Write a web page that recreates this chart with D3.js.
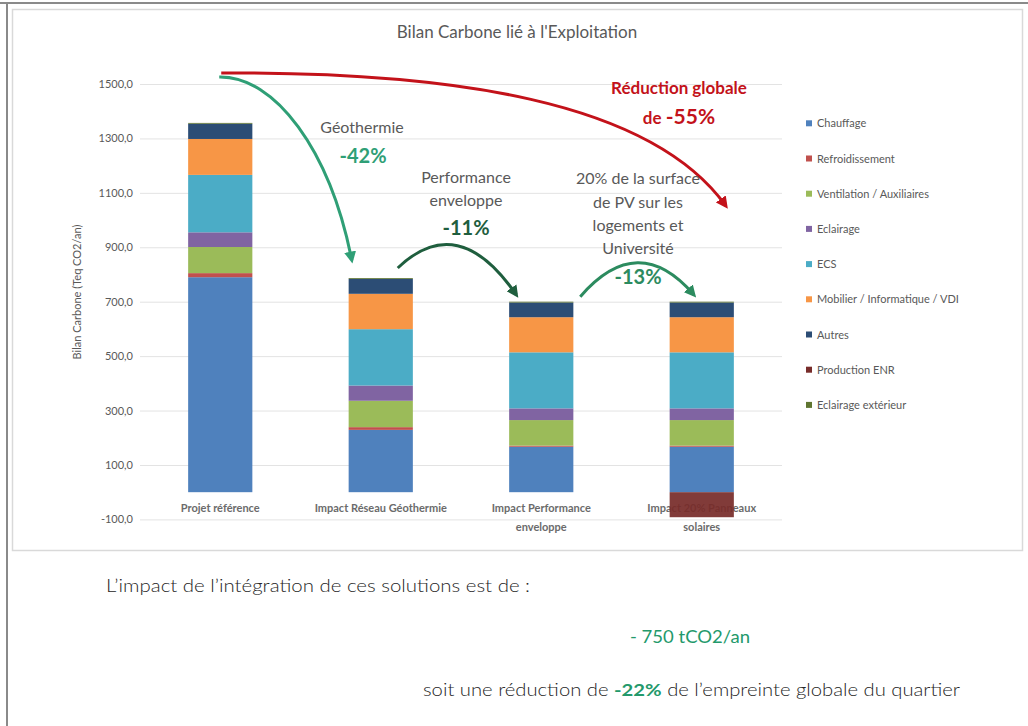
<!DOCTYPE html>
<html>
<head>
<meta charset="utf-8">
<script src="https://cdn.jsdelivr.net/npm/d3@7"></script>
<style>
  html, body { margin: 0; padding: 0; background: #fff; }
  svg { display: block; font-family: Lato, "Open Sans", sans-serif; }
</style>
</head>
<body>
<svg id="chart" width="1028" height="726"></svg>
<script>
// Scenarios (x categories)
const scenarios = ["Projet référence", "Impact Réseau Géothermie", "Impact Performance enveloppe", "Impact 20% Panneaux solaires"];
const scenarioLines = [["Projet référence"], ["Impact Réseau Géothermie"], ["Impact Performance", "enveloppe"], ["Impact 20% Panneaux", "solaires"]];

// Emission posts (stack order, bottom to top)
const posts = ["Chauffage", "Refroidissement", "Ventilation / Auxiliaires", "Eclairage", "ECS",
               "Mobilier / Informatique / VDI", "Autres", "Production ENR", "Eclairage extérieur"];
const postColors = ["#4f81bd", "#c0504d", "#9bbb59", "#8064a2", "#4bacc6", "#f79646", "#2c4d75", "#772c2a", "#5f7530"];

// Values per post, in Teq CO2/an, one entry per scenario
const chauffage       = [790, 229, 167, 167];
const refroidissement = [15, 10, 4, 4];
const ventilation     = [96, 97, 94, 94];
const eclairage       = [54, 56, 43, 43];
const ecs             = [211, 207, 206, 206];
const mobilier        = [132, 130, 129, 129];
const autres          = [56, 55, 54, 54];
const productionEnr   = [0, 0, 0, -92];
const eclairageExt    = [3, 3, 3, 3];

const yTicks = [-100, 100, 300, 500, 700, 900, 1100, 1300, 1500];

const seriesValues = [chauffage, refroidissement, ventilation, eclairage, ecs, mobilier, autres, productionEnr, eclairageExt];
const rows = scenarios.map((s, i) => {
  const r = { scenario: s };
  posts.forEach((p, k) => { r[p] = seriesValues[k][i]; });
  return r;
});

const svg = d3.select("#chart");

// Page frame and chart box
svg.append("rect").attr("x", 0).attr("y", 0).attr("width", 1028).attr("height", 726).attr("fill", "#fff");
svg.append("line").attr("x1", 0).attr("x2", 1028).attr("y1", 3).attr("y2", 3).attr("stroke", "#8a8a8a").attr("stroke-width", 2);
svg.append("line").attr("x1", 7).attr("x2", 7).attr("y1", 3).attr("y2", 726).attr("stroke", "#8a8a8a").attr("stroke-width", 2);
svg.append("rect").attr("x", 12.5).attr("y", 9.5).attr("width", 1010).attr("height", 541)
   .attr("fill", "#fff").attr("stroke", "#d9d9d9").attr("stroke-width", 1.5);

const x = d3.scaleBand().domain(scenarios).range([140, 782]).paddingInner(0.6).paddingOuter(0.3);
const y = d3.scaleLinear().domain([-100, 1500]).range([519.4, 84]);

// Title
svg.append("text").attr("x", 517).attr("y", 38).attr("text-anchor", "middle")
   .attr("font-size", 17).attr("fill", "#595959").text("Bilan Carbone lié à l'Exploitation");

// Gridlines + y axis labels
const yAxis = d3.axisLeft(y).tickValues(yTicks).tickSize(-(782 - 140)).tickPadding(7)
  .tickFormat(d => d3.format(".1f")(d).replace(".", ",").replace("−", "-"));
const gY = svg.append("g").attr("transform", "translate(140,0)").call(yAxis);
gY.select(".domain").remove();
gY.selectAll(".tick line").attr("stroke", "#e3e3e3").attr("stroke-width", 1);
gY.selectAll(".tick text").attr("fill", "#595959").attr("font-size", 11).attr("font-family", "Lato, sans-serif");

svg.append("text").attr("transform", "translate(81,292) rotate(-90)").attr("text-anchor", "middle")
   .attr("font-size", 11).attr("fill", "#595959").text("Bilan Carbone (Teq CO2/an)");

// Category labels (drawn beneath the bars)
const gX = svg.append("g");
scenarioLines.forEach((lines, i) => {
  const t = gX.append("text").attr("x", x(scenarios[i]) + x.bandwidth() / 2).attr("y", 512)
    .attr("text-anchor", "middle").attr("font-size", 11).attr("font-weight", 700).attr("fill", "#6b6b6b");
  lines.forEach((l, j) => t.append("tspan").attr("x", x(scenarios[i]) + x.bandwidth() / 2).attr("dy", j ? 19 : 0).text(l));
});

// Stacked bars
const stack = d3.stack().keys(posts).offset(d3.stackOffsetDiverging);
const layers = stack(rows);
const color = d3.scaleOrdinal().domain(posts).range(postColors);
svg.append("g").selectAll("g").data(layers).join("g")
  .attr("fill", d => color(d.key))
  .attr("fill-opacity", d => d.key === "Production ENR" ? 0.93 : 1)
  .selectAll("rect").data(d => d).join("rect")
  .attr("x", d => x(d.data.scenario))
  .attr("width", x.bandwidth())
  .attr("y", d => y(Math.max(d[0], d[1])))
  .attr("height", d => Math.abs(y(d[0]) - y(d[1])));

// Legend
const legend = svg.append("g");
posts.forEach((p, i) => {
  const ly = 123.3 + i * 35.2;
  legend.append("rect").attr("x", 806).attr("y", ly - 3).attr("width", 6).attr("height", 6).attr("fill", color(p));
  legend.append("text").attr("x", 817).attr("y", ly + 4).attr("font-size", 11).attr("fill", "#595959").text(p);
});

// Arrow markers
const defs = svg.append("defs");
function marker(id, col) {
  defs.append("marker").attr("id", id).attr("viewBox", "0 0 10 10").attr("refX", 7).attr("refY", 5)
    .attr("markerWidth", 4).attr("markerHeight", 4).attr("orient", "auto")
    .append("path").attr("d", "M0,0 L10,5 L0,10 Z").attr("fill", col);
}
const cGeo = "#2f9f76", cRed = "#c3121a", cEnv = "#1f5e3e", cPv = "#2c8b5f";
marker("mGeo", cGeo); marker("mRed", cRed); marker("mEnv", cEnv); marker("mPv", cPv);

const cx = s => x(s) + x.bandwidth() / 2;
const total = i => d3.sum(posts, p => Math.max(0, rows[i][p]));

function arrow(pathFn, col, mk) {
  const p = d3.path(); pathFn(p);
  svg.append("path").attr("d", p.toString()).attr("fill", "none").attr("stroke", col)
    .attr("stroke-width", 3).attr("marker-end", `url(#${mk})`);
}
// Global reduction arrow
arrow(p => { p.moveTo(cx(scenarios[0]) + 1, 73);
  p.bezierCurveTo(450, 72, 650, 100, cx(scenarios[3]) + 24, y(total(3)) - 96); }, cRed, "mRed");
// Geothermal arrow
arrow(p => { p.moveTo(cx(scenarios[0]) - 1, 77);
  p.bezierCurveTo(275, 76, 330, 150, cx(scenarios[1]) - 29, y(total(1)) - 18); }, cGeo, "mGeo");
// Envelope arrow
arrow(p => { p.moveTo(cx(scenarios[1]) + 17, y(total(1)) - 10);
  p.quadraticCurveTo(458, 210, cx(scenarios[2]) - 25, y(total(2)) - 7); }, cEnv, "mEnv");
// PV arrow
arrow(p => { p.moveTo(cx(scenarios[2]) + 39, y(total(2)) - 5);
  p.quadraticCurveTo(638, 230, cx(scenarios[3]) - 8, y(total(3)) - 7); }, cPv, "mPv");

// Annotation texts
function txt(xp, yp, s, size, col, weight) {
  return svg.append("text").attr("x", xp).attr("y", yp).attr("text-anchor", "middle")
    .attr("font-size", size).attr("fill", col).attr("font-weight", weight || 400).text(s);
}
txt(362, 133, "Géothermie", 16, "#595959");
txt(363, 163, "-42%", 20, cGeo, 700);
txt(466, 183, "Performance", 16, "#595959");
txt(466, 206, "enveloppe", 16, "#595959");
txt(466, 235, "-11%", 20, cEnv, 700);
txt(638, 184, "20% de la surface", 16, "#595959");
txt(638, 208, "de PV sur les", 16, "#595959");
txt(638, 231, "logements et", 16, "#595959");
txt(638, 254, "Université", 16, "#595959");
txt(638, 284, "-13%", 20, cPv, 700);
txt(679, 94, "Réduction globale", 17, cRed, 700);
const r2 = svg.append("text").attr("x", 679).attr("y", 124).attr("text-anchor", "middle").attr("fill", cRed).attr("font-weight", 700);
r2.append("tspan").attr("font-size", 17).text("de  ");
r2.append("tspan").attr("font-size", 21).text("-55%");

// Summary text below the chart
const body = "#262626";
const green = "#23996b";
svg.append("text").attr("x", 106).attr("y", 592).attr("font-size", 17).attr("fill", body).attr("font-weight", 300)
   .attr("textLength", 424).attr("lengthAdjust", "spacingAndGlyphs")
   .text("L’impact de l’intégration de ces solutions est de :");
svg.append("text").attr("x", 630).attr("y", 643).attr("font-size", 17).attr("fill", green).attr("font-weight", 400)
   .attr("textLength", 120).attr("lengthAdjust", "spacingAndGlyphs").text("- 750 tCO2/an");
const s3 = svg.append("text").attr("x", 423).attr("y", 696).attr("font-size", 17).attr("fill", body).attr("font-weight", 300)
   .attr("textLength", 537).attr("lengthAdjust", "spacingAndGlyphs");
s3.append("tspan").text("soit une réduction de ");
s3.append("tspan").attr("fill", green).attr("font-weight", 700).text("-22%");
s3.append("tspan").text(" de l’empreinte globale du quartier");
</script>
</body>
</html>
